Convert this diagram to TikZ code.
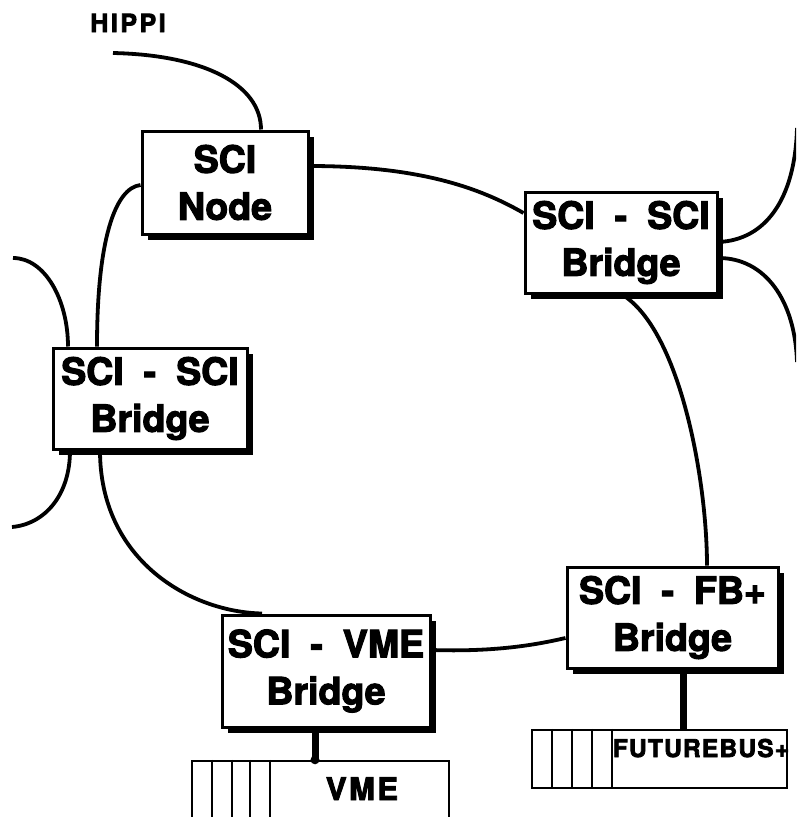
\documentclass[tikz,border=0pt]{standalone}
\usepackage{fontspec}
\setmainfont{TeX Gyre Heros}[BoldFeatures={FakeBold=3}]
\usetikzlibrary{shadows}
\begin{document}
\begin{tikzpicture}[x=1pt,y=-1pt,
  box/.style={draw, line width=3pt, fill=white, inner sep=0pt, align=center,
    font=\bfseries\fontsize{37.5}{47}\selectfont,
    drop shadow={fill=black, opacity=1, shadow xshift=6pt, shadow yshift=-6pt}},
  link/.style={line width=3.8pt},
  stem/.style={line width=7pt},
  bus/.style={draw, line width=2.4pt, fill=white, inner sep=0pt},
  slot/.style={line width=2.4pt},
  lbl/.style={font=\bfseries, anchor=base, inner sep=0pt}
]
\useasboundingbox (0,0) rectangle (796,817);
\begin{scope}
\clip (0,0) rectangle (796,817);
% boxes
\node[box, minimum width=166pt, minimum height=103pt] (scinode) at (225,182.5) {SCI\\Node};
\node[box, minimum width=192pt, minimum height=101pt] (trb) at (621,242.5) {SCI\hspace{20pt}-\hspace{20pt}SCI\\Bridge};
\node[box, minimum width=194pt, minimum height=101pt] (lb) at (150,398.5) {SCI\hspace{20pt}-\hspace{20pt}SCI\\Bridge};
\node[box, minimum width=208pt, minimum height=112pt] (vmeb) at (326,671) {SCI\hspace{20pt}-\hspace{20pt}VME\\Bridge};
\node[box, minimum width=211pt, minimum height=101pt] (fbb) at (672.5,617.5) {SCI\hspace{20pt}-\hspace{20pt}FB+\\Bridge};
% buses
\node[bus, minimum width=257pt, minimum height=80pt] (vmebus) at (320.5,801) {};
\foreach \x in {212,232,250,270} \draw[slot] (vmebus.north -| \x,0) -- (vmebus.south -| \x,0);
\node[bus, minimum width=255pt, minimum height=58pt] (fbbus) at (659.5,759) {};
\foreach \x in {552,572,592,612} \draw[slot] (fbbus.north -| \x,0) -- (fbbus.south -| \x,0);
\node[lbl, font=\bfseries\fontsize{31}{31}\selectfont\addfontfeature{LetterSpace=8}] (vmetxt) at (362,800) {VME};
\node[lbl, font=\bfseries\fontsize{24.5}{24.5}\selectfont\addfontfeature{LetterSpace=5}] (fbtxt) at (701,757) {FUTUREBUS+};
\node[lbl, font=\bfseries\fontsize{25}{25}\selectfont\addfontfeature{LetterSpace=10}] (hippi) at (128,32) {HIPPI};
% stems
\draw[stem] (vmeb.south -| 315,0) -- (vmebus.north -| 315,0);
\fill (vmebus.north -| 315,0) circle (4.5pt);
\draw[stem] (fbb.south -| 683,0) -- (fbbus.north -| 683,0);
% free ends
\coordinate (hippiend) at (113,53);
\coordinate (lfree1) at (13,258);
\coordinate (lfree2) at (12,527);
\coordinate (rfree1) at (797,128);
\coordinate (rfree2) at (797,362);
% links
\draw[link] (hippiend) .. controls (205,55) and (261,85) .. (scinode.north -| 261,0);
\draw[link] (scinode.east |- 0,166) .. controls (420,166) and (480,188) .. (trb.west |- 0,213);
\draw[link] (scinode.west |- 0,185) .. controls (115,188) and (97,240) .. (lb.north -| 97,0);
\draw[link] (lfree1) .. controls (45,258) and (68,300) .. (lb.north -| 68,0);
\draw[link] (lb.south -| 70,0) .. controls (70,495) and (45,524) .. (lfree2);
\draw[link] (lb.south -| 100,0) .. controls (100,560) and (190,612) .. (vmeb.north -| 262,0);
\draw[link] (vmeb.east |- 0,650) .. controls (495,652) and (535,645) .. (fbb.west |- 0,638);
\draw[link] (trb.south -| 622,0) .. controls (680,330) and (707,480) .. (fbb.north -| 707,0);
\draw[link] (trb.east |- 0,242) .. controls (765,240) and (795,200) .. (rfree1);
\draw[link] (trb.east |- 0,258) .. controls (765,258) and (795,300) .. (rfree2);
\end{scope}
\end{tikzpicture}
\end{document}
